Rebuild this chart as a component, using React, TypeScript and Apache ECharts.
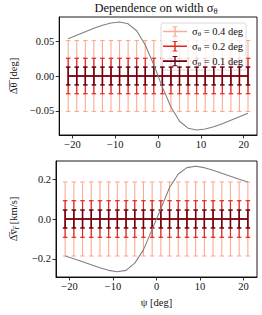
import React, { useEffect, useRef } from "react";
import * as echarts from "echarts";

const psi = [-21, -19, -17, -15, -13, -11, -9, -7, -5, -3, -1, 1, 3, 5, 7, 9, 11, 13, 15, 17, 19, 21];
const meanZero = [0, 0, 0, 0, 0, 0, 0, 0, 0, 0, 0, 0, 0, 0, 0, 0, 0, 0, 0, 0, 0, 0];
const dThetaCurve = [0.0535, 0.0585, 0.0635, 0.0685, 0.073, 0.0762, 0.0776, 0.075, 0.065, 0.0445, 0.016,
  -0.016, -0.0445, -0.065, -0.075, -0.0776, -0.0762, -0.073, -0.0685, -0.0635, -0.0585, -0.0535];
const dVrCurve = [-0.186, -0.2, -0.215, -0.23, -0.245, -0.258, -0.265, -0.258, -0.222, -0.155, -0.052,
  0.052, 0.158, 0.226, 0.258, 0.265, 0.258, 0.245, 0.23, 0.215, 0.2, 0.186];
const sigmaLabels = ["0.4", "0.2", "0.1"];
const errTheta = [0.051, 0.0255, 0.0128];
const errVr = [0.186, 0.092, 0.045];
const xTicks = [-20, -10, 0, 10, 20];
const yTicksTheta = [-0.05, 0, 0.05];
const yTicksVr = [-0.2, 0, 0.2];

const colors = ["#fbab92", "#e3251e", "#6b0012"];
const widths = [1.1, 1.2, 1.5];
const FONT = "Liberation Serif";
const TXT = { fontFamily: FONT, fontWeight: "normal" as const, color: "#111" };

const fmtMinus = (v: number, d: number) => (v < 0 ? "\u2212" : "") + Math.abs(v).toFixed(d);

export default function App() {
  const ref = useRef<HTMLDivElement>(null);
  useEffect(() => {
    const chart = echarts.init(ref.current!, null, { renderer: "svg" });
    const names = sigmaLabels.map((s) => `σθ = ${s} deg`);

    const errRender = (color: string, lw: number) => (params: any, api: any) => {
      const x = api.value(0), y = api.value(1), e = api.value(2);
      const t = api.coord([x, y + e]);
      const b = api.coord([x, y - e]);
      const cw = 2.3;
      const st = { stroke: color, lineWidth: lw };
      return {
        type: "group",
        children: [
          { type: "line", shape: { x1: t[0], y1: t[1], x2: b[0], y2: b[1] }, style: st },
          { type: "line", shape: { x1: t[0] - cw, y1: t[1], x2: t[0] + cw, y2: t[1] }, style: st },
          { type: "line", shape: { x1: b[0] - cw, y1: b[1], x2: b[0] + cw, y2: b[1] }, style: st },
        ],
      };
    };

    const series: any[] = [];
    [0, 1].forEach((gi) => {
      const errs = gi === 0 ? errTheta : errVr;
      sigmaLabels.forEach((_, si) => {
        series.push({
          type: "custom",
          name: names[si],
          xAxisIndex: gi,
          yAxisIndex: gi,
          itemStyle: { color: colors[si] },
          renderItem: errRender(colors[si], widths[si]),
          encode: { x: 0, y: 1 },
          data: psi.map((p, i) => [p, meanZero[i], errs[si]]),
          z: 2 + si,
        });
        series.push({
          type: "line",
          xAxisIndex: gi,
          yAxisIndex: gi,
          symbol: "none",
          lineStyle: { color: colors[si], width: 1.6 },
          data: psi.map((p, i) => [p, meanZero[i]]),
          z: 2 + si,
        });
      });
      series.push({
        type: "line",
        xAxisIndex: gi,
        yAxisIndex: gi,
        symbol: "none",
        lineStyle: { color: "#808080", width: 1.1 },
        data: psi.map((p, i) => [p, gi === 0 ? dThetaCurve[i] : dVrCurve[i]]),
        z: 6,
      });
    });

    const xAxisBase = (gi: number) => ({
      type: "value",
      gridIndex: gi,
      min: -23.1,
      max: 23.1,
      axisLine: { show: true, onZero: false, lineStyle: { color: "#000", width: 0.9 } },
      axisTick: { show: true, inside: false, length: 3.5, lineStyle: { color: "#000", width: 0.8 }, customValues: xTicks },
      axisLabel: {
        customValues: xTicks,
        formatter: (v: number) => fmtMinus(v, 0),
        ...TXT,
        fontSize: 10.5,
        margin: 4,
      },
      splitLine: { show: false },
    });

    const option: any = {
      animation: false,
      backgroundColor: "#fff",
      textStyle: { fontFamily: FONT },
      title: {
        text: "{a|Dependence on width σ}{b|θ}",
        left: 156,
        top: 0,
        padding: 0,
        textAlign: "center",
        textStyle: {
          ...TXT,
          fontSize: 12.5,
          rich: {
            a: { ...TXT, fontSize: 12.5 },
            b: { ...TXT, fontSize: 8.5, padding: [6, 0, 0, 0] },
          },
        },
      },
      legend: {
        orient: "vertical",
        left: 161,
        top: 23,
        padding: [3, 3, 3, 2],
        itemWidth: 24,
        itemHeight: 11,
        itemGap: 3.3,
        backgroundColor: "rgba(255,255,255,0.8)",
        borderColor: "#d0d0d0",
        borderWidth: 0.8,
        borderRadius: 2,
        data: names,
        icon: "path://M0,4.4h24v1.6h-24z M11.3,0h1.4v10.4h-1.4z M9.6,0h4.8v1h-4.8z M9.6,9.4h4.8v1h-4.8z",
        formatter: (name: string) => `{a|σ}{b|θ}{a| = ${name.split("= ")[1]}}`,
        textStyle: {
          ...TXT,
          fontSize: 10.5,
          rich: {
            a: { ...TXT, fontSize: 10.5 },
            b: { ...TXT, fontSize: 7, padding: [5, 0, 0, 0] },
          },
        },
      },
      grid: [
        { left: 55, right: 5, top: 17, height: 118, show: true, borderColor: "#000", borderWidth: 0.9 },
        { left: 55, right: 5, top: 161, height: 116, show: true, borderColor: "#000", borderWidth: 0.9 },
      ],
      xAxis: [
        xAxisBase(0),
        {
          ...xAxisBase(1),
          name: "ψ [deg]",
          nameLocation: "middle",
          nameGap: 20,
          nameTextStyle: { ...TXT, fontSize: 10.5 },
        },
      ],
      yAxis: [
        {
          type: "value",
          gridIndex: 0,
          min: -0.0848,
          max: 0.0848,
          name: "\u0394\u0305\u03b8\u0305 [deg]",
          nameLocation: "middle",
          nameGap: 36,
          nameTextStyle: { ...TXT, fontSize: 10.5 },
          axisLine: { show: true, onZero: false, lineStyle: { color: "#000", width: 0.9 } },
          axisTick: { show: true, length: 3.5, lineStyle: { color: "#000", width: 0.8 }, customValues: yTicksTheta },
          axisLabel: {
            customValues: yTicksTheta,
            formatter: (v: number) => fmtMinus(v, 2),
            ...TXT,
            fontSize: 10.5,
            margin: 5,
          },
          splitLine: { show: false },
        },
        {
          type: "value",
          gridIndex: 1,
          min: -0.2915,
          max: 0.2915,
          name: "{o|\u0394\u0305v\u0305}{s|r\u0305}{o| [km/s]}",
          nameLocation: "middle",
          nameGap: 36,
          nameTextStyle: {
            ...TXT,
            fontSize: 10.5,
            rich: {
              o: { ...TXT, fontSize: 10.5 },
              s: { ...TXT, fontSize: 7.5, padding: [5, 0, 0, 0] },
            },
          },
          axisLine: { show: true, onZero: false, lineStyle: { color: "#000", width: 0.9 } },
          axisTick: { show: true, length: 3.5, lineStyle: { color: "#000", width: 0.8 }, customValues: yTicksVr },
          axisLabel: {
            customValues: yTicksVr,
            formatter: (v: number) => fmtMinus(v, 1),
            ...TXT,
            fontSize: 10.5,
            margin: 5,
          },
          splitLine: { show: false },
        },
      ],
      series,
    };
    chart.setOption(option);
    return () => chart.dispose();
  }, []);
  return (
    <div
      ref={ref}
      style={{ position: "fixed", left: 0, top: 0, width: 262, height: 315 }}
    />
  );
}
